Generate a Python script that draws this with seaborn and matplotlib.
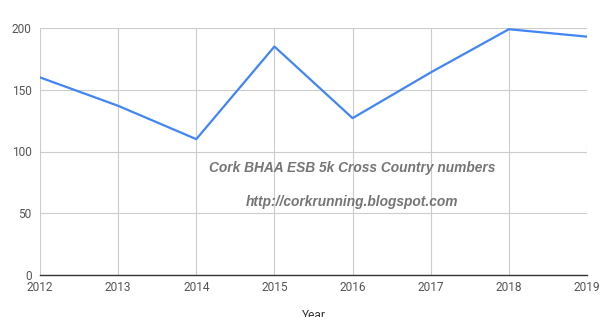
import matplotlib
matplotlib.use("Agg")
import matplotlib.pyplot as plt
import seaborn as sns
import pandas as pd

years = [2012, 2013, 2014, 2015, 2016, 2017, 2018, 2019]
numbers = [160, 137, 110, 185, 127, 164, 199, 193]
y_ticks = [0, 50, 100, 150, 200]
title_lines = ["Cork BHAA ESB 5k Cross Country numbers", "http://corkrunning.blogspot.com"]

df = pd.DataFrame({"Year": years, "Numbers": numbers})

sns.set_theme(style="whitegrid")
plt.rcParams['font.family'] = ['Roboto', 'DejaVu Sans']

fig = plt.figure(figsize=(6.05, 3.17), dpi=100)
ax = fig.add_axes([40/605, 1-275/317, (587-40)/605, (275-28)/317])

sns.lineplot(data=df, x="Year", y="Numbers", ax=ax, color="#4285F4", linewidth=1.6)

ax.set_xlim(2012, 2019)
ax.set_ylim(0, 200)
ax.set_xticks(years)
ax.set_yticks(y_ticks)
ax.grid(True, color="#cccccc", linewidth=0.8)
for s in ["left", "right", "top"]:
    ax.spines[s].set_visible(False)
ax.spines["bottom"].set_color("#333333")
ax.spines["bottom"].set_linewidth(1.0)
ax.tick_params(axis="both", labelsize=8.6, colors="#555555", length=0)
ax.tick_params(axis="x", pad=4)
ax.tick_params(axis="y", pad=6)
ax.set_ylabel("")
ax.set_xlabel("Year", fontsize=8.6, color="#333333", labelpad=11)

ax.text(0.570, (275-168)/247, title_lines[0], transform=ax.transAxes,
        ha="center", va="center", fontsize=9.9, color="#757575",
        fontweight="bold", fontstyle="italic", family="Liberation Sans")
ax.text(0.570, (275-202)/247, title_lines[1], transform=ax.transAxes,
        ha="center", va="center", fontsize=9.9, color="#757575",
        fontweight="bold", fontstyle="italic", family="Liberation Sans")

fig.savefig("out.png", dpi=100)
